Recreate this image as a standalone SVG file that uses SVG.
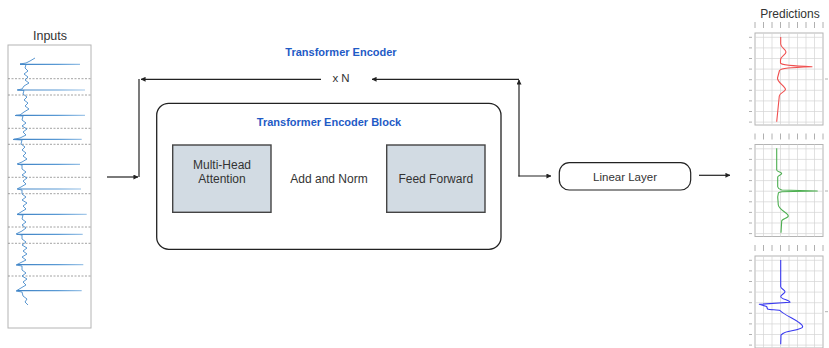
<svg xmlns="http://www.w3.org/2000/svg" xmlns:xlink="http://www.w3.org/1999/xlink" width="829" height="348" viewBox="0 0 829 348">
<style>
text{font-family:"Liberation Sans",Arial,sans-serif;fill:#333;}
.title{font-weight:bold;fill:#1f5bc6;font-size:11px;}
.lbl{font-size:12px;}
.conn{fill:none;stroke:#222;stroke-width:1.2;}
.box{fill:#d2dbe3;stroke:#444;stroke-width:1.4;}
.frame{fill:#fff;stroke:#b4b4b4;stroke-width:1;}
.grid{stroke:#d4d4d4;stroke-width:0.7;}
.tick{stroke:#b0b0b0;stroke-width:1;}
.dash{stroke:#8a8a8a;stroke-width:0.8;stroke-dasharray:2 1.5;}
.spike{stroke:url(#fade);stroke-width:1.2;}
.ecg{fill:none;stroke:#4a8ccc;stroke-width:0.9;stroke-linejoin:round;}
.curve{fill:none;stroke-width:1.1;stroke-linejoin:round;}
</style>
<defs>
<marker id="ah" viewBox="0 0 6 6" refX="5.5" refY="3" markerWidth="5" markerHeight="5" orient="auto" markerUnits="userSpaceOnUse">
<path d="M0 0 L6 3 L0 6 Z" fill="#222"/>
</marker>
<linearGradient id="fade" x1="0" y1="0" x2="1" y2="0">
<stop offset="0" stop-color="#3b7fc2"/>
<stop offset="0.6" stop-color="#5b9bd5"/>
<stop offset="1" stop-color="#a8cbeb"/>
</linearGradient>
<g id="chart">
<rect class="frame" x="0" y="0" width="68" height="92"/>
<path class="grid" d="M8.5 0V92M17 0V92M25.5 0V92M34 0V92M42.5 0V92M51 0V92M59.5 0V92M0 4.3H68M0 14.9H68M0 25.5H68M0 36.1H68M0 46.7H68M0 57.3H68M0 67.9H68M0 78.5H68M0 89.1H68"/>
<path class="tick" d="M0 -11V-5M8.5 -11V-5M17 -11V-5M25.5 -11V-5M34 -11V-5M42.5 -11V-5M51 -11V-5M59.5 -11V-5M68 -11V-5"/>
<path class="tick" d="M-6 4.3H-3M-6 14.9H-3M-6 25.5H-3M-6 36.1H-3M-6 46.7H-3M-6 57.3H-3M-6 67.9H-3M-6 78.5H-3M-6 89.1H-3"/>
</g>
</defs>
<rect width="829" height="348" fill="#fff"/>

<g id="inputs">
<text x="50" y="40" text-anchor="middle" style="font-size:12.5px">Inputs</text>
<rect class="frame" x="8" y="45" width="83" height="283"/>
<path class="dash" d="M8 78.7H91M8 95H91M8 128.3H91M8 144.3H91M8 177.3H91M8 193.7H91M8 227H91M8 243.3H91M8 276H91"/>
<path class="spike" d="M20 64.3H80M18 90H85M16 115.3H85M14 139.3H81.7M18 164.3H80M18 189H81M17 214.3H86.7M17 234.3H82.7M17 264.7H83.3M17 290.7H81.7"/>
<path class="ecg" d="M35 58 L30 61 L26 63 L20 64 L26 64.5 L25 68 L28 71 L24 74 L28 77 L25 80 L29 83 L24 86 L22 89 L17 90 L24 90.5 L23 94 L27 97 L24 100 L28 103 L25 106 L29 109 L24 112 L20 115 L15 115.5 L23 116 L22 120 L26 123 L22 126 L27 129 L23 132 L26 135 L20 138 L13 139.5 L22 140 L21 144 L25 147 L22 150 L26 153 L23 156 L27 159 L22 162 L17 164 L22 165 L22 169 L26 172 L22 175 L27 178 L23 181 L26 184 L21 187 L17 189 L22 190 L22 194 L26 197 L22 200 L27 203 L23 206 L26 209 L21 212 L17 214.5 L23 215 L22 219 L26 222 L22 225 L26 228 L22 231 L16 234 L22 235 L22 239 L26 242 L22 245 L27 248 L23 251 L27 254 L22 257 L26 260 L20 263 L16 265 L22 266 L22 270 L26 273 L22 276 L27 279 L23 282 L26 285 L21 288 L16 291 L22 292 L23 296 L27 299 L25 302 L28 305"/>
</g>

<g id="connectors">
<path class="conn" d="M107 177 H138" marker-end="url(#ah)"/>
<path class="conn" d="M139 177 V79"/>
<path class="conn" d="M321 79.3 H141" marker-end="url(#ah)"/>
<path class="conn" d="M519 176.6 V80" marker-end="url(#ah)"/>
<path class="conn" d="M519 79.3 H372" marker-end="url(#ah)"/>
<path class="conn" d="M518.4 176 H551" marker-end="url(#ah)"/>
<path class="conn" d="M699 175.3 H730" marker-end="url(#ah)"/>
</g>

<g id="encoder">
<text class="title" x="341" y="55.7" text-anchor="middle">Transformer Encoder</text>
<text x="341" y="82.3" text-anchor="middle" style="font-size:11.5px">x N</text>
</g>

<g id="encoder-block">
<rect x="156.7" y="103.3" width="344.3" height="146" rx="12" fill="#fff" stroke="#222" stroke-width="1.3"/>
<text class="title" x="329" y="125.7" text-anchor="middle">Transformer Encoder Block</text>
</g>

<g id="mha">
<rect class="box" x="172.7" y="145" width="98.3" height="67.3"/>
<text class="lbl" x="222" y="169" text-anchor="middle">Multi-Head</text>
<text class="lbl" x="222" y="182.6" text-anchor="middle">Attention</text>
</g>

<g id="addnorm">
<text class="lbl" x="329" y="182.6" text-anchor="middle">Add and Norm</text>
</g>

<g id="ff">
<rect class="box" x="386.7" y="145" width="98.3" height="67.3"/>
<text class="lbl" x="435.8" y="182.6" text-anchor="middle">Feed Forward</text>
</g>

<g id="linear">
<rect x="559.3" y="162.7" width="131.4" height="27.3" rx="10" fill="#fff" stroke="#222" stroke-width="1.2"/>
<text x="625" y="180.6" text-anchor="middle" style="font-size:11.5px">Linear Layer</text>
</g>

<g id="predictions">
<text x="790" y="17.6" text-anchor="middle" style="font-size:12px">Predictions</text>
<use xlink:href="#chart" x="755" y="33"/>
<use xlink:href="#chart" x="755" y="144.5"/>
<use xlink:href="#chart" x="755" y="256"/>
<path class="tick" d="M825 79H828M825 191H828M825 311.7H828"/>
<path class="curve" stroke="#f05050" d="M780.7 37 L780.7 44 C780.7 48 786 49 786 52 C786 55 780.5 56 780.5 60 L780.5 63 C781 65 790 66 812 66.7 C790 67.5 781 68 779.5 70.5 L777.5 78 C777 82 785 86 785.5 89.3 C785 92 779.5 93 779.3 96 L776.7 121.7"/>
<path class="curve" stroke="#4caf50" d="M776.7 148.3 L776.7 170 C777 172 781.7 172 781.7 173.5 C781.7 175 777.7 175.5 777.7 177 L777.7 186.7 C778 189 781 189.5 782 190 L817.3 191 L782 191.8 C780 192.3 778 192.5 778.3 193.5 L777.7 197 L778.3 205 C779 210 788.3 213 788.3 216 C788.3 218 781.7 219 781.7 221 L781 232.7"/>
<path class="curve" stroke="#3a3af0" d="M780.7 260 L780.7 286.7 C781 289 785 290 785 291.7 C785 293.5 780.7 294.5 780.7 296.7 C781 299 789 300 790 302.3 L759.3 304.3 L766.7 306.5 L767.5 309 C770 310 778 309.5 780 310.5 C785 316 802.7 322 802.7 326.7 C802.7 330 785 331 783.3 333.3 L781 335 L780.7 344.3"/>
</g>
</svg>
